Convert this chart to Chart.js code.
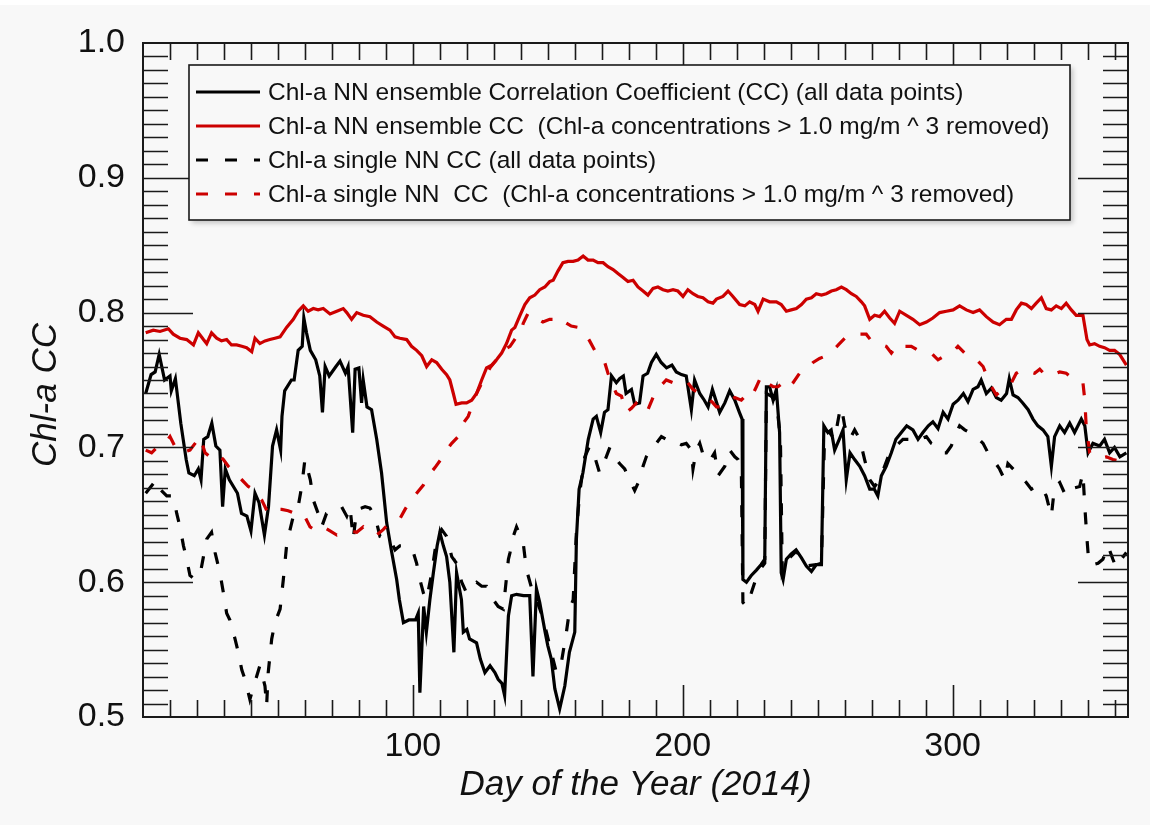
<!DOCTYPE html>
<html>
<head>
<meta charset="utf-8">
<title>Chl-a CC 2014</title>
<script src="https://cdn.jsdelivr.net/npm/chart.js@4.4.1/dist/chart.umd.min.js"></script>
<style>
  html, body { margin: 0; padding: 0; background: #f8f8f8; }
  canvas { display: block; }
</style>
</head>
<body>
<canvas id="grafico" width="1150" height="825"></canvas>
<script>
// === DADOS ===
// NN ensemble CC (all data points) - black solid
const ensAllDays = [1, 3, 4.5, 6, 8, 10, 10.5, 12, 14, 16, 17, 19, 20.5, 21.5, 22.5, 24, 25.5, 27, 28.5, 29.5, 30.5, 32, 35, 36.5, 38.5, 40, 41.5, 43, 45, 46.5, 48, 49.5, 51, 51.5, 52.5, 55, 56, 57.5, 59, 59.6, 60.6, 62, 64, 65.5, 66.5, 67.5, 69, 71.5, 73, 75, 76, 77.7, 78.6, 80, 81, 81.6, 83, 84.7, 86.6, 88.4, 90.3, 92, 94, 95, 96.5, 98.5, 101, 102, 102.6, 104, 105, 106.3, 107.6, 109, 110, 111.3, 112.5, 113.7, 115.2, 116.2, 118, 118.7, 120, 121, 123.6, 125, 126.7, 128.6, 130.4, 131.6, 133, 134, 135.4, 136.6, 138.4, 141, 143.3, 144.5, 145.8, 147, 149, 150, 151.3, 152.6, 154.4, 156.3, 158, 160, 160.6, 161.6, 163, 165, 166.8, 168, 169.6, 171, 172.3, 173.6, 175.4, 176.6, 178, 179, 181, 182.2, 184, 185.3, 187, 188.4, 190.2, 192, 194, 196, 197.6, 199.5, 201.3, 203.2, 204.4, 206.3, 208, 209.4, 211, 213.7, 215.6, 217.4, 219.3, 221, 222, 222.3, 223.6, 225.4, 227.3, 229, 230.4, 231, 232.2, 233.5, 234.7, 235.9, 236.5, 237.2, 238.4, 240.2, 242, 244, 245.8, 247.7, 249.5, 251.4, 252.3, 253.8, 255, 256.3, 258, 259.4, 260.6, 262, 263.7, 265.6, 267.4, 269.3, 271, 272.3, 273.6, 275.4, 277.3, 279, 281, 283, 285.3, 287.2, 289, 291, 292.7, 294.6, 296.5, 298.3, 300.2, 302, 304, 305.7, 307.6, 309.4, 310.6, 312.5, 314.4, 316.2, 318, 320, 321, 322.4, 324.2, 326, 328, 329.8, 331.6, 333.5, 335.3, 336.6, 337.8, 339.7, 341.5, 343.4, 345.2, 347.7, 349, 350.2, 352, 354.5, 356.3, 358.2, 360, 362, 364.4];
const ensAllCC = [0.740, 0.754, 0.756, 0.769, 0.750, 0.753, 0.742, 0.751, 0.718, 0.691, 0.681, 0.679, 0.684, 0.676, 0.706, 0.708, 0.718, 0.701, 0.698, 0.656, 0.684, 0.676, 0.666, 0.651, 0.649, 0.638, 0.666, 0.659, 0.635, 0.656, 0.701, 0.713, 0.698, 0.723, 0.742, 0.750, 0.750, 0.772, 0.775, 0.796, 0.785, 0.772, 0.765, 0.753, 0.726, 0.760, 0.753, 0.760, 0.764, 0.755, 0.760, 0.711, 0.758, 0.759, 0.733, 0.750, 0.730, 0.728, 0.706, 0.681, 0.644, 0.624, 0.602, 0.587, 0.570, 0.572, 0.572, 0.577, 0.518, 0.582, 0.563, 0.587, 0.607, 0.627, 0.637, 0.627, 0.619, 0.600, 0.548, 0.607, 0.587, 0.563, 0.565, 0.558, 0.555, 0.543, 0.533, 0.538, 0.533, 0.528, 0.525, 0.516, 0.575, 0.590, 0.591, 0.590, 0.590, 0.530, 0.595, 0.585, 0.563, 0.553, 0.543, 0.521, 0.506, 0.523, 0.548, 0.563, 0.632, 0.669, 0.681, 0.706, 0.721, 0.723, 0.711, 0.726, 0.728, 0.753, 0.748, 0.751, 0.753, 0.740, 0.743, 0.732, 0.733, 0.753, 0.755, 0.763, 0.769, 0.763, 0.759, 0.761, 0.756, 0.754, 0.753, 0.728, 0.750, 0.740, 0.735, 0.730, 0.743, 0.726, 0.733, 0.742, 0.735, 0.726, 0.721, 0.602, 0.600, 0.605, 0.609, 0.613, 0.617, 0.745, 0.745, 0.735, 0.743, 0.711, 0.607, 0.602, 0.617, 0.621, 0.624, 0.618, 0.612, 0.608, 0.613, 0.613, 0.716, 0.711, 0.713, 0.698, 0.706, 0.713, 0.676, 0.696, 0.691, 0.686, 0.679, 0.669, 0.669, 0.664, 0.679, 0.686, 0.696, 0.706, 0.711, 0.716, 0.713, 0.706, 0.711, 0.716, 0.719, 0.714, 0.726, 0.721, 0.732, 0.735, 0.740, 0.734, 0.743, 0.745, 0.750, 0.740, 0.744, 0.737, 0.735, 0.740, 0.751, 0.739, 0.737, 0.733, 0.728, 0.721, 0.716, 0.713, 0.708, 0.686, 0.708, 0.716, 0.711, 0.718, 0.711, 0.721, 0.716, 0.696, 0.703, 0.701, 0.706, 0.696, 0.700, 0.693, 0.696];

// NN ensemble CC (Chl-a > 1.0 mg/m^3 removed) - red solid
const ensCutDays = [1, 3.8, 6.3, 9.4, 11.2, 13.7, 16.2, 18.7, 20.5, 22.4, 23.6, 25.4, 27.3, 29.1, 31, 32.8, 34.7, 36.6, 38.4, 40.3, 41.5, 43.3, 45.2, 47, 48.9, 50.8, 53.2, 55.7, 57.5, 59.4, 61.2, 63.1, 64.9, 66.8, 69.3, 71.8, 74.2, 75.5, 77.3, 79.2, 81.6, 84.1, 86.6, 89, 91.5, 93.4, 95.2, 97.7, 99.5, 101.4, 103.3, 105.1, 107, 108.8, 110.7, 112.5, 113.7, 115, 116, 118.1, 119.9, 121.8, 123.6, 125.5, 127.3, 129.2, 131, 132.9, 134.7, 136.6, 137.8, 139.7, 141.5, 143.3, 145.2, 147, 148.9, 150.7, 152, 153.8, 155.6, 157.5, 159.4, 161.2, 163.1, 164.9, 166.8, 168.6, 170.5, 172.3, 174.2, 176, 177.9, 179.7, 181.6, 183.4, 185.3, 187.1, 189, 190.8, 192.7, 194.5, 196.4, 198.2, 200.1, 201.9, 203.8, 205.6, 207.5, 209.4, 211.2, 212.5, 214.9, 216.8, 218.6, 221.1, 223, 224.8, 226.7, 227.9, 229.8, 232.2, 234.7, 236.5, 238.4, 240.2, 242.1, 244, 245.8, 247.7, 249.5, 251.4, 253.2, 255.1, 256.9, 258.8, 260.6, 262.5, 264.3, 266.2, 267.4, 269.3, 271.1, 273, 274.8, 276.7, 278.5, 280.4, 282.9, 285.3, 287.8, 290.3, 292.7, 295.2, 297.7, 300.2, 302.6, 305.1, 307.6, 310, 312.5, 315, 317.4, 319.9, 321.8, 323.6, 325.5, 327.3, 329.2, 331, 332.9, 334.7, 336.6, 338.4, 340.3, 342.1, 344, 345.8, 348.3, 349.8, 350.8, 352.6, 354.5, 356.3, 358.2, 360, 361.9, 364.4];
const ensCutCC = [0.785, 0.787, 0.786, 0.788, 0.784, 0.781, 0.780, 0.776, 0.785, 0.780, 0.777, 0.785, 0.781, 0.779, 0.780, 0.776, 0.776, 0.775, 0.774, 0.771, 0.781, 0.777, 0.779, 0.780, 0.781, 0.782, 0.789, 0.795, 0.801, 0.805, 0.801, 0.803, 0.802, 0.803, 0.799, 0.801, 0.803, 0.800, 0.795, 0.800, 0.798, 0.797, 0.793, 0.790, 0.787, 0.782, 0.781, 0.780, 0.775, 0.772, 0.768, 0.760, 0.765, 0.763, 0.758, 0.754, 0.750, 0.740, 0.732, 0.733, 0.733, 0.735, 0.740, 0.750, 0.759, 0.761, 0.765, 0.770, 0.777, 0.787, 0.789, 0.798, 0.806, 0.811, 0.813, 0.817, 0.819, 0.823, 0.824, 0.831, 0.837, 0.838, 0.838, 0.839, 0.842, 0.839, 0.839, 0.837, 0.837, 0.834, 0.832, 0.829, 0.826, 0.823, 0.824, 0.819, 0.816, 0.813, 0.818, 0.819, 0.817, 0.816, 0.817, 0.816, 0.812, 0.817, 0.814, 0.812, 0.811, 0.808, 0.807, 0.810, 0.812, 0.816, 0.812, 0.806, 0.805, 0.808, 0.806, 0.801, 0.810, 0.808, 0.808, 0.806, 0.801, 0.802, 0.803, 0.806, 0.810, 0.811, 0.814, 0.813, 0.814, 0.816, 0.817, 0.819, 0.817, 0.814, 0.812, 0.808, 0.805, 0.795, 0.798, 0.797, 0.801, 0.796, 0.792, 0.801, 0.798, 0.795, 0.791, 0.793, 0.796, 0.800, 0.801, 0.802, 0.805, 0.802, 0.800, 0.802, 0.797, 0.793, 0.791, 0.795, 0.795, 0.802, 0.807, 0.806, 0.803, 0.807, 0.811, 0.803, 0.802, 0.805, 0.803, 0.807, 0.802, 0.798, 0.798, 0.780, 0.776, 0.777, 0.775, 0.774, 0.772, 0.772, 0.769, 0.761];

// single NN CC (all data points) - black dashed
const oneAllDays = [1, 5, 6.3, 8.8, 11.2, 12.5, 13.7, 15, 16.2, 17.4, 19.3, 21.1, 22.4, 23.6, 25.4, 26.7, 28.5, 29.8, 31, 32.2, 34.1, 35.3, 36.6, 37.8, 39.6, 40.9, 43.3, 45.2, 45.8, 46.4, 47.7, 48.9, 50.8, 52, 53.2, 54.5, 55.7, 57.5, 58.8, 60, 62, 63.1, 64.9, 66.2, 68, 70.5, 71.8, 73.6, 75.5, 76.7, 77.9, 79.2, 81, 82.3, 84.1, 86, 87.8, 89.7, 91.5, 93.4, 95.2, 97.7, 100.2, 101.4, 102.6, 103.9, 105.1, 107, 108.8, 110.7, 112.5, 114.4, 116.2, 118.1, 119.9, 121.8, 123.6, 125.5, 127.3, 129.8, 131.6, 133.5, 135.4, 136, 137.2, 138.4, 140.9, 142.1, 142.7, 144.5, 145.8, 147.6, 149.5, 151.3, 153.2, 155, 156.9, 158.1, 159.4, 160.6, 161.8, 163.7, 165.5, 167.4, 169.2, 171.1, 173, 174.8, 176.6, 178.5, 180.3, 182.2, 184, 185.3, 186.5, 188.4, 190.2, 192.1, 193.9, 195.8, 197.6, 199.5, 201.3, 203.2, 203.8, 205, 206.3, 208.1, 210, 211.8, 213.1, 215.6, 217.4, 219.3, 220.5, 221.7, 222.3, 223.6, 225.4, 226.7, 228.5, 230.4, 231, 232.8, 234.7, 236.2, 236.9, 239, 242.1, 245.8, 249.5, 251.4, 252.6, 254.4, 256.3, 258.1, 258.8, 260, 261.9, 263.7, 265.6, 267.4, 269.3, 271.1, 273, 274.8, 276.7, 279.1, 281.6, 284, 285.3, 287.8, 290.3, 292.1, 294, 295.8, 297.7, 299.5, 301.4, 302.6, 304.5, 306.3, 308.8, 311.3, 313.1, 315, 317.4, 319.3, 320.5, 322.4, 324.8, 327.3, 329.2, 331, 332.9, 334.7, 336.6, 337.8, 339.7, 341.5, 343.4, 345.2, 347.1, 348.3, 349, 349.8, 350.5, 352, 353.9, 355.7, 357.6, 359.4, 360.6, 362.5, 364.4];
const oneAllCC = [0.666, 0.676, 0.669, 0.664, 0.664, 0.651, 0.641, 0.627, 0.617, 0.605, 0.602, 0.605, 0.619, 0.632, 0.637, 0.622, 0.607, 0.592, 0.577, 0.572, 0.558, 0.548, 0.535, 0.528, 0.513, 0.522, 0.538, 0.523, 0.508, 0.533, 0.558, 0.570, 0.580, 0.602, 0.627, 0.639, 0.649, 0.656, 0.671, 0.691, 0.676, 0.661, 0.651, 0.641, 0.651, 0.654, 0.654, 0.656, 0.649, 0.656, 0.632, 0.654, 0.655, 0.656, 0.655, 0.649, 0.634, 0.632, 0.632, 0.624, 0.627, 0.627, 0.622, 0.614, 0.602, 0.592, 0.587, 0.607, 0.632, 0.639, 0.634, 0.619, 0.614, 0.600, 0.592, 0.597, 0.600, 0.597, 0.597, 0.587, 0.582, 0.580, 0.617, 0.622, 0.634, 0.641, 0.629, 0.609, 0.605, 0.592, 0.587, 0.577, 0.563, 0.548, 0.533, 0.540, 0.563, 0.580, 0.587, 0.637, 0.666, 0.693, 0.701, 0.693, 0.681, 0.690, 0.700, 0.693, 0.688, 0.684, 0.676, 0.668, 0.676, 0.686, 0.693, 0.700, 0.703, 0.708, 0.706, 0.707, 0.704, 0.702, 0.703, 0.698, 0.684, 0.698, 0.703, 0.691, 0.690, 0.696, 0.679, 0.686, 0.698, 0.693, 0.691, 0.686, 0.585, 0.582, 0.592, 0.600, 0.609, 0.614, 0.740, 0.738, 0.735, 0.706, 0.607, 0.617, 0.623, 0.612, 0.613, 0.614, 0.713, 0.711, 0.706, 0.726, 0.730, 0.716, 0.706, 0.713, 0.706, 0.691, 0.676, 0.671, 0.676, 0.686, 0.696, 0.701, 0.706, 0.706, 0.708, 0.706, 0.708, 0.703, 0.701, 0.696, 0.696, 0.701, 0.711, 0.716, 0.713, 0.711, 0.708, 0.703, 0.696, 0.691, 0.684, 0.676, 0.688, 0.684, 0.679, 0.674, 0.669, 0.671, 0.671, 0.664, 0.649, 0.671, 0.674, 0.666, 0.672, 0.670, 0.671, 0.681, 0.656, 0.632, 0.614, 0.613, 0.614, 0.617, 0.627, 0.617, 0.611, 0.617, 0.622];

// single NN CC (Chl-a > 1.0 mg/m^3 removed) - red dashed
const oneCutDays = [1, 3.2, 5.7, 8.1, 10, 12.5, 14.3, 17.4, 19.3, 21.1, 23, 24.8, 27.3, 29.8, 31.6, 34.1, 36.6, 39, 41.5, 44, 46.4, 48.9, 51.4, 53.8, 56.3, 59.4, 61.9, 64.3, 66.8, 69.3, 71.8, 74.2, 76.7, 79.2, 81.6, 83.5, 86.6, 89, 90.9, 93.4, 95.2, 97.1, 98.9, 101.4, 103.9, 105.7, 108.2, 110.7, 112.5, 114.4, 116.8, 118.7, 120.5, 121.8, 123.6, 126.1, 128.6, 131, 133.5, 136, 138.4, 139.6, 140.9, 142.8, 145.8, 148.2, 150.7, 152.6, 153.8, 156.3, 158.7, 161.2, 163.7, 165.5, 167.4, 169.2, 171.1, 172.3, 173.6, 175.4, 177.3, 179.1, 181, 182.8, 184.7, 187.1, 189, 191.5, 193.9, 196.4, 198.2, 200.1, 201.9, 203.8, 206.3, 208.7, 211.2, 212.5, 214.9, 217.4, 219.3, 221.7, 223.6, 225.4, 227.3, 229.1, 231, 233.5, 235.3, 237.2, 239, 240.9, 243.3, 245.8, 248.3, 250.7, 253.2, 255.7, 258.1, 260.6, 263.1, 265.6, 268, 269.9, 273, 275.4, 277.3, 279.8, 282.3, 284.7, 287.2, 289.7, 292.1, 294.6, 297.1, 300.2, 302, 304.5, 306.9, 309.4, 311.3, 312.7, 314.4, 316.2, 318.1, 319.9, 321.8, 323.6, 326.1, 328.5, 330.4, 332.3, 334.7, 337.2, 339.7, 342.1, 344.6, 347.1, 348.3, 349, 349.5, 350.8, 352.6, 354.5, 357, 359.4, 361.9, 364.4];
const oneCutCC = [0.698, 0.696, 0.701, 0.703, 0.708, 0.698, 0.696, 0.698, 0.703, 0.708, 0.696, 0.693, 0.696, 0.691, 0.686, 0.681, 0.676, 0.671, 0.668, 0.661, 0.651, 0.654, 0.654, 0.653, 0.651, 0.651, 0.641, 0.638, 0.641, 0.638, 0.635, 0.637, 0.638, 0.637, 0.641, 0.637, 0.635, 0.639, 0.643, 0.645, 0.647, 0.654, 0.660, 0.666, 0.672, 0.679, 0.685, 0.692, 0.698, 0.703, 0.708, 0.718, 0.723, 0.730, 0.740, 0.750, 0.759, 0.765, 0.772, 0.775, 0.782, 0.783, 0.792, 0.800, 0.796, 0.793, 0.795, 0.795, 0.797, 0.793, 0.790, 0.789, 0.785, 0.779, 0.772, 0.768, 0.763, 0.755, 0.748, 0.740, 0.738, 0.726, 0.729, 0.733, 0.735, 0.728, 0.737, 0.745, 0.750, 0.748, 0.748, 0.750, 0.748, 0.743, 0.740, 0.738, 0.733, 0.730, 0.730, 0.735, 0.737, 0.735, 0.739, 0.737, 0.745, 0.753, 0.748, 0.745, 0.745, 0.748, 0.744, 0.748, 0.755, 0.758, 0.763, 0.766, 0.768, 0.772, 0.777, 0.782, 0.784, 0.784, 0.784, 0.779, 0.777, 0.775, 0.770, 0.777, 0.775, 0.775, 0.772, 0.771, 0.770, 0.765, 0.768, 0.771, 0.775, 0.770, 0.768, 0.764, 0.760, 0.753, 0.745, 0.739, 0.742, 0.745, 0.748, 0.755, 0.758, 0.756, 0.755, 0.758, 0.753, 0.754, 0.756, 0.755, 0.751, 0.749, 0.748, 0.735, 0.716, 0.696, 0.693, 0.692, 0.693, 0.691, 0.690, 0.684];

// eixos
const xMajorTicks = [100, 200, 300];
const yMajorTicks = [0.5, 0.6, 0.7, 0.8, 0.9, 1.0];

const legendLabels = [
  'Chl-a NN ensemble Correlation Coefficient (CC) (all data points)',
  'Chl-a NN ensemble CC  (Chl-a concentrations > 1.0 mg/m ^ 3 removed)',
  'Chl-a single NN CC (all data points)',
  'Chl-a single NN  CC  (Chl-a concentrations > 1.0 mg/m ^ 3 removed)'
];

const FONT = '"Liberation Sans", Arial, Helvetica, sans-serif';
const RED = '#cc0000';
const INK = '#1a1a1a';
const DASH = [12, 17];
const LW = 3.2;

function pares(days, vals) {
  return days.map((d, i) => ({ x: d, y: vals[i] }));
}

// fundo (faixa branca no topo)
const fundo = {
  id: 'fundo',
  beforeDraw(chart) {
    const { ctx, width, height } = chart;
    ctx.save();
    ctx.fillStyle = '#ffffff';
    ctx.fillRect(0, 0, width, 5);
    ctx.fillStyle = '#f8f8f8';
    ctx.fillRect(0, 5, width, height - 5);
    ctx.restore();
  }
};

// moldura e marcas para dentro, nos quatro lados
const moldura = {
  id: 'moldura',
  afterDatasetsDraw(chart) {
    const { ctx, chartArea: a, scales: { x, y } } = chart;
    ctx.save();
    ctx.strokeStyle = INK;
    ctx.lineWidth = 1.6;
    ctx.beginPath();
    for (let d = 10; d < 365; d += 10) {
      const px = Math.round(x.getPixelForValue(d)) + 0.5;
      const len = xMajorTicks.includes(d) ? 32 : 17;
      ctx.moveTo(px, a.bottom); ctx.lineTo(px, a.bottom - len);
      ctx.moveTo(px, a.top); ctx.lineTo(px, a.top + len);
    }
    for (let k = 51; k < 100; k++) {
      const py = Math.round(y.getPixelForValue(k / 100)) + 0.5;
      const len = k % 10 === 0 ? 50 : 25;
      ctx.moveTo(a.left, py); ctx.lineTo(a.left + len, py);
      ctx.moveTo(a.right, py); ctx.lineTo(a.right - len, py);
    }
    ctx.stroke();
    ctx.lineWidth = 2;
    ctx.strokeRect(a.left, a.top, a.right - a.left, a.bottom - a.top);

    // título do eixo y (rodado)
    ctx.translate(46, 395);
    ctx.rotate(-Math.PI / 2);
    ctx.fillStyle = '#111';
    ctx.font = 'italic 35px ' + FONT;
    ctx.textAlign = 'center';
    ctx.textBaseline = 'middle';
    ctx.fillText('Chl-a CC', 0, 0);
    ctx.restore();
  }
};

// legenda com caixa
const legenda = {
  id: 'legenda',
  afterDraw(chart) {
    const { ctx } = chart;
    const box = { x: 189, y: 65, w: 881, h: 155 };
    ctx.save();
    ctx.shadowColor = 'rgba(0,0,0,0.22)';
    ctx.shadowBlur = 5;
    ctx.shadowOffsetX = 3;
    ctx.shadowOffsetY = 3;
    ctx.fillStyle = '#f8f8f8';
    ctx.fillRect(box.x, box.y, box.w, box.h);
    ctx.shadowColor = 'transparent';
    ctx.strokeStyle = INK;
    ctx.lineWidth = 1.6;
    ctx.strokeRect(box.x, box.y, box.w, box.h);

    chart.data.datasets.forEach((ds, row) => {
      const cy = 92 + row * 34;
      ctx.strokeStyle = ds.borderColor;
      ctx.lineWidth = LW;
      ctx.setLineDash(ds.borderDash || []);
      ctx.beginPath();
      ctx.moveTo(196, cy);
      ctx.lineTo(260, cy);
      ctx.stroke();
      ctx.setLineDash([]);
      ctx.fillStyle = '#111';
      ctx.font = '24.5px ' + FONT;
      ctx.textBaseline = 'middle';
      ctx.textAlign = 'left';
      ctx.fillText(legendLabels[row], 268, cy + 1);
    });
    ctx.restore();
  }
};

const ctx = document.getElementById('grafico').getContext('2d');
new Chart(ctx, {
  type: 'line',
  data: {
    datasets: [
      {
        label: legendLabels[0],
        data: pares(ensAllDays, ensAllCC),
        borderColor: '#000000',
        borderWidth: LW,
        order: 4
      },
      {
        label: legendLabels[1],
        data: pares(ensCutDays, ensCutCC),
        borderColor: RED,
        borderWidth: LW,
        order: 3
      },
      {
        label: legendLabels[2],
        data: pares(oneAllDays, oneAllCC),
        borderColor: '#000000',
        borderWidth: LW,
        borderDash: DASH,
        order: 2
      },
      {
        label: legendLabels[3],
        data: pares(oneCutDays, oneCutCC),
        borderColor: RED,
        borderWidth: LW,
        borderDash: DASH,
        order: 1
      }
    ]
  },
  options: {
    responsive: false,
    animation: false,
    clip: true,
    elements: {
      point: { radius: 0 },
      line: { tension: 0, fill: false }
    },
    layout: {
      autoPadding: false,
      padding: { top: 43, right: 22, left: 0, bottom: 0 }
    },
    plugins: {
      legend: { display: false },
      tooltip: { enabled: false }
    },
    scales: {
      x: {
        type: 'linear',
        min: 0,
        max: 365,
        afterFit(scale) { scale.height = 108; },
        afterBuildTicks(scale) { scale.ticks = xMajorTicks.map(v => ({ value: v })); },
        grid: { display: false, drawTicks: false },
        border: { display: false },
        ticks: {
          color: '#111',
          padding: 9,
          maxRotation: 0,
          font: { family: FONT, size: 34 },
          callback: v => String(v)
        },
        title: {
          display: true,
          text: 'Day of the Year (2014)',
          color: '#111',
          font: { family: FONT, size: 35, style: 'italic' },
          padding: { top: 0, bottom: 19 }
        }
      },
      y: {
        min: 0.5,
        max: 1.0,
        afterFit(scale) { scale.width = 143; },
        afterBuildTicks(scale) { scale.ticks = yMajorTicks.map(v => ({ value: v })); },
        grid: { display: false, drawTicks: false },
        border: { display: false },
        ticks: {
          color: '#111',
          padding: 18,
          font: { family: FONT, size: 34 },
          callback: v => v.toFixed(1)
        }
      }
    }
  },
  plugins: [fundo, moldura, legenda]
});
</script>
</body>
</html>
